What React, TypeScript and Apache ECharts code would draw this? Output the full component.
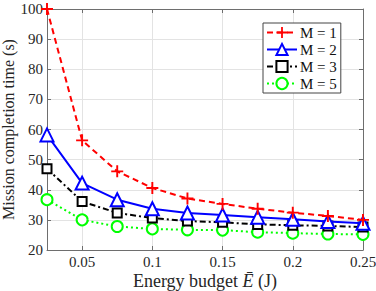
import React, { useEffect, useRef } from "react";
import * as echarts from "echarts";

const energy = [0.025, 0.05, 0.075, 0.1, 0.125, 0.15, 0.175, 0.2, 0.225, 0.25];
const m1 = [100, 56.4, 46.1, 40.6, 37.1, 35.3, 33.7, 32.4, 31.3, 30.0];
const m2 = [58.2, 42.2, 36.7, 33.7, 32.3, 31.6, 30.9, 30.2, 29.5, 28.9];
const m3 = [47.0, 36.1, 32.3, 30.6, 29.6, 29.2, 28.5, 28.2, 28.0, 27.6];
const m5 = [36.7, 30.0, 27.8, 27.0, 26.7, 26.6, 25.9, 25.6, 25.3, 25.2];
const xTicks = [0.05, 0.1, 0.15, 0.2, 0.25];
const seriesNames = ["M = 1", "M = 2", "M = 3", "M = 5"];

const FONT = "'Liberation Serif', 'Times New Roman', serif";
const plus = "path://M0.42,0H0.58V0.42H1V0.58H0.58V1H0.42V0.58H0V0.42H0.42Z";

export default function App() {
  const ref = useRef<HTMLDivElement>(null);
  useEffect(() => {
    if (!ref.current) return;
    const chart = echarts.init(ref.current, undefined, { renderer: "svg" });
    const mk = (vals: number[]) => vals.map((v, i) => [energy[i], v]);
    const axisLineStyle = { color: "#6e6e6e", width: 1 };
    chart.setOption({
      animation: false,
      backgroundColor: "#fff",
      grid: { left: 47, right: 13, top: 9, bottom: 41, outerBoundsMode: "none", containLabel: false },
      legend: {
        orient: "vertical",
        left: 263,
        top: 23,
        padding: [2, 4, 2, 3],
        itemGap: 2,
        itemWidth: 30,
        itemHeight: 14,
        borderColor: "#444",
        borderWidth: 1,
        backgroundColor: "#fff",
        textStyle: { fontFamily: FONT, fontSize: 15, color: "#111", padding: [0, 0, 0, -2] },
        data: seriesNames,
      },
      xAxis: [
        {
          type: "value",
          min: 0.025,
          max: 0.25,
          name: "Energy budget {i|Ē} (J)",
          nameLocation: "middle",
          nameMoveOverlap: false,
          nameGap: 22,
          nameTextStyle: {
            fontFamily: FONT,
            fontSize: 18,
            color: "#262626",
            verticalAlign: "top",
            rich: { i: { fontFamily: FONT, fontSize: 18, fontStyle: "italic", color: "#262626" } },
          },
          axisLine: { lineStyle: axisLineStyle },
          axisTick: { inside: true, length: 4, lineStyle: axisLineStyle, customValues: xTicks },
          axisLabel: {
            customValues: xTicks,
            fontFamily: FONT,
            fontSize: 15,
            color: "#262626",
            margin: 4,
            formatter: (v: number) => String(Math.round(v * 1000) / 1000),
          },
          splitLine: { show: true, lineStyle: { color: "#e3e3e3", width: 1 } },
        },
        {
          type: "value",
          position: "top",
          min: 0.025,
          max: 0.25,
          axisLine: { show: true, lineStyle: axisLineStyle },
          axisTick: { inside: true, length: 4, lineStyle: axisLineStyle, customValues: xTicks },
          axisLabel: { show: false, customValues: xTicks },
          splitLine: { show: false },
        },
      ],
      yAxis: [
        {
          type: "value",
          min: 20,
          max: 100,
          interval: 10,
          name: "Mission completion time (s)",
          nameLocation: "middle",
          nameMoveOverlap: false,
          nameGap: 31,
          nameTextStyle: { fontFamily: FONT, fontSize: 16, color: "#262626" },
          axisLine: { show: true, lineStyle: axisLineStyle },
          axisTick: { show: true, inside: true, length: 4, lineStyle: axisLineStyle },
          axisLabel: { fontFamily: FONT, fontSize: 15, color: "#262626", margin: 4 },
          splitLine: { show: true, lineStyle: { color: "#e3e3e3", width: 1 } },
        },
        {
          type: "value",
          position: "right",
          min: 20,
          max: 100,
          interval: 10,
          axisLine: { show: true, lineStyle: axisLineStyle },
          axisTick: { show: true, inside: true, length: 4, lineStyle: axisLineStyle },
          axisLabel: { show: false },
          splitLine: { show: false },
        },
      ],
      series: [
        {
          name: seriesNames[0],
          type: "line",
          data: mk(m1),
          symbol: plus,
          symbolSize: 12,
          itemStyle: { color: "#ff0000", borderWidth: 0 },
          lineStyle: { color: "#ff0000", width: 2, type: [6, 4] },
          z: 5,
        },
        {
          name: seriesNames[1],
          type: "line",
          data: mk(m2),
          symbol: "emptyTriangle",
          symbolSize: 13,
          itemStyle: { color: "#0000ff", borderWidth: 2 },
          lineStyle: { color: "#0000ff", width: 2, type: "solid" },
          z: 4,
        },
        {
          name: seriesNames[2],
          type: "line",
          data: mk(m3),
          symbol: "emptyRect",
          symbolSize: 9,
          itemStyle: { color: "#000000", borderWidth: 2 },
          lineStyle: { color: "#000000", width: 2, type: [6, 3, 2, 3] },
          z: 3,
        },
        {
          name: seriesNames[3],
          type: "line",
          data: mk(m5),
          symbol: "emptyCircle",
          symbolSize: 11,
          itemStyle: { color: "#00ff00", borderWidth: 2 },
          lineStyle: { color: "#00ff00", width: 2, type: [2, 3] },
          z: 2,
        },
      ],
    });
    return () => chart.dispose();
  }, []);
  return <div ref={ref} style={{ width: 376, height: 291, position: "absolute", left: 0, top: 0 }} />;
}
